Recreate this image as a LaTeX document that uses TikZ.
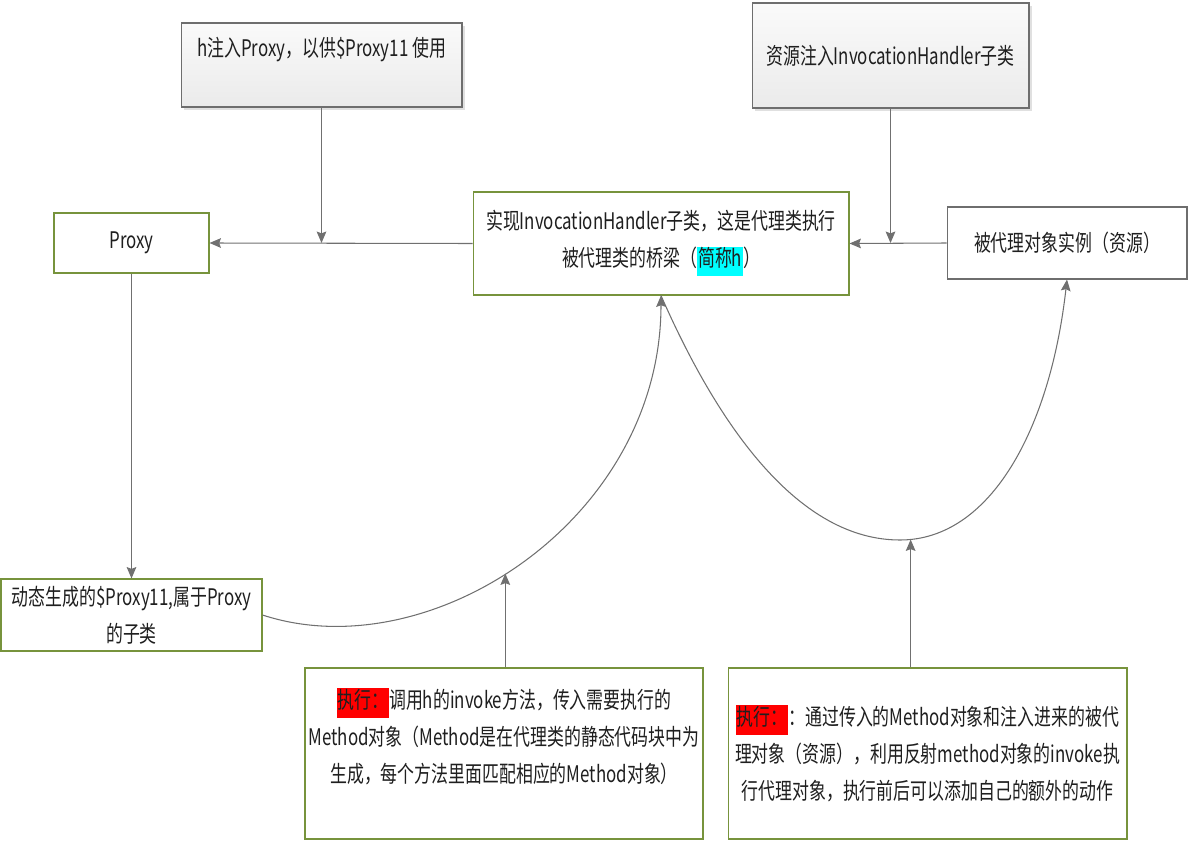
\documentclass[tikz,border=0pt]{standalone}
\usepackage{fontspec}
\setmainfont[FakeStretch=0.74]{Noto Sans CJK SC}
\usepackage{tikz}
\usetikzlibrary{arrows.meta, positioning, shadows}
\usepackage{xcolor}
\definecolor{boxgreen}{HTML}{77933C}
\definecolor{boxgray}{HTML}{6E6E6E}
\definecolor{linegray}{HTML}{707070}
\definecolor{hlcyan}{RGB}{0,255,255}
\definecolor{hlred}{RGB}{255,0,0}
\newcommand{\hlbox}[2]{{\setlength{\fboxsep}{0.5pt}\colorbox{#1}{\rule[-5pt]{0pt}{13pt}#2}}}

\begin{document}
\begin{tikzpicture}[>={Stealth[length=6.5pt,width=5.5pt,inset=1pt]}, x=0.02cm, y=-0.02cm,
    every node/.style={font=\fontsize{13}{21}\selectfont, text=black!88, align=center},
    box/.style={draw=boxgreen, line width=0.6pt, fill=white, inner sep=2pt},
    graybox/.style={draw=boxgray, line width=0.6pt, top color=black!2, bottom color=black!8,
        drop shadow={shadow xshift=1.5pt, shadow yshift=-1.5pt, fill=black!12, opacity=1}},
    link/.style={->, draw=linegray, line width=0.6pt}]
    \useasboundingbox (0,0) rectangle (1189,841);

    % 注入说明
    \node[graybox, minimum width=5.62cm, minimum height=1.68cm] (inject) at (321.5,65) {h注入Proxy，以供\$Proxy11 使用\\ \mbox{}};
    \node[graybox, minimum width=5.54cm, minimum height=2.1cm] (res) at (890.5,55.5) {资源注入InvocationHandler子类};

    % 中间一行
    \node[box, minimum width=3.1cm, minimum height=1.2cm] (proxy) at (131.5,243) {Proxy};
    \node[box, minimum width=7.52cm, minimum height=2.06cm] (bridge) at (661,243.5) {实现InvocationHandler子类，这是代理类执行\\被代理类的桥梁（\hlbox{hlcyan}{简称h}）};
    \node[box, draw=boxgray, minimum width=4.8cm, minimum height=1.44cm] (target) at (1067,243) {被代理对象实例（资源）};

    % 下方
    \node[box, minimum width=5.22cm, minimum height=1.44cm] (dyn) at (131.5,615) {动态生成的\$Proxy11,属于Proxy\\的子类};
    \node[box, minimum width=7.96cm, minimum height=3.42cm] (call) at (504,753.5) {\hlbox{hlred}{执行：}调用h的invoke方法，传入需要执行的\\Method对象（Method是在代理类的静态代码块中为\\生成，每个方法里面匹配相应的Method对象）\\ \mbox{}};
    \node[box, minimum width=7.98cm, minimum height=3.42cm] (exec) at (927.5,753.5) {\hlbox{hlred}{执行：}：通过传入的Method对象和注入进来的被代\\理对象（资源），利用反射method对象的invoke执\\行代理对象，执行前后可以添加自己的额外的动作};

    % 连线
    \draw[link] (inject.south) -- (inject.south |- proxy.east);
    \draw[link] (bridge.west) -- (proxy.east);
    \draw[link] (res.south) -- (res.south |- target.west);
    \draw[link] (target.west) -- (bridge.east);
    \draw[link] (proxy.south) -- (dyn.north);

    % 调用曲线
    \draw[link] (dyn.east) .. controls (430,670) and (661,520) .. (bridge.south) coordinate[pos=0.46] (hitcall);
    \draw[link] (bridge.south) .. controls (720,430) and (800,540) .. (900,540)
        .. controls (990,540) and (1050,430) .. (target.south) coordinate[pos=0.04] (hitexec);
    \draw[link] (hitcall |- call.north) -- (hitcall);
    \draw[link] (hitexec |- exec.north) -- (hitexec);
\end{tikzpicture}
\end{document}
